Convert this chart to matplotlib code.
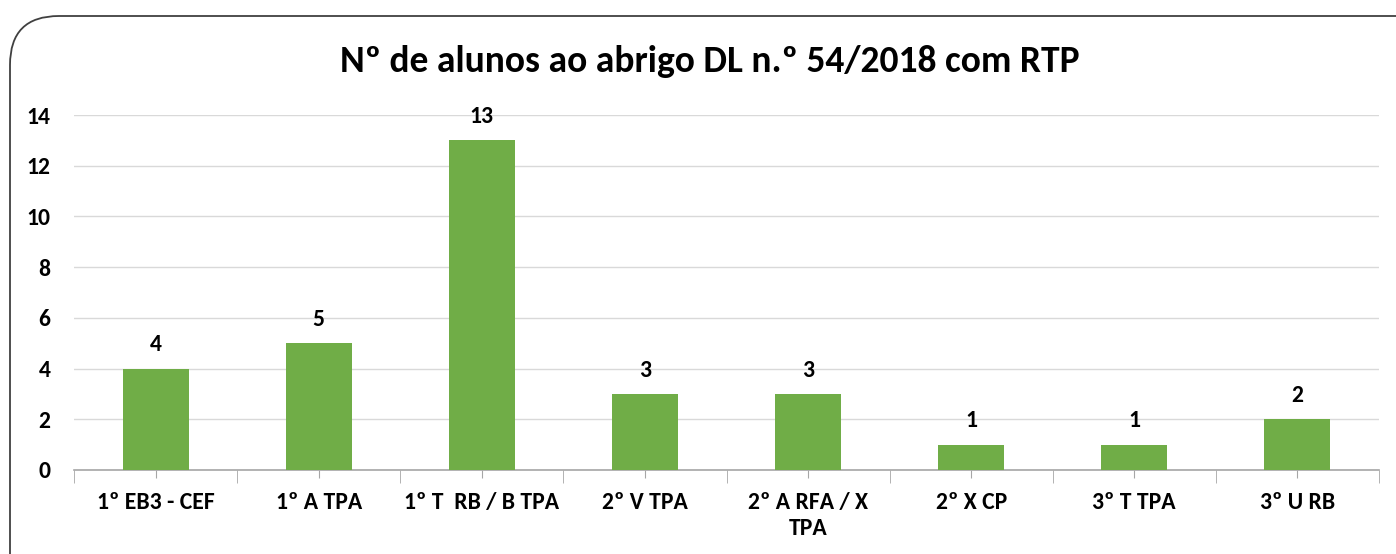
import matplotlib
matplotlib.use("Agg")
import matplotlib.pyplot as plt
from matplotlib.patches import FancyBboxPatch
import numpy as np

categories = ["1º EB3 - CEF", "1º A TPA", "1º T  RB / B TPA", "2º V TPA",
              "2º A RFA / X\nTPA", "2º X CP", "3º T TPA", "3º U RB"]
values = [4, 5, 13, 3, 3, 1, 1, 2]
yticks = [0, 2, 4, 6, 8, 10, 12, 14]
title = "Nº de alunos ao abrigo DL n.º 54/2018 com RTP"

plt.rcParams['font.family'] = ['Carlito', 'DejaVu Sans']

fig = plt.figure(figsize=(13.96, 5.54), dpi=100)
fig.patch.set_facecolor("white")

border = FancyBboxPatch((10/1396, -0.2), 1.2, 1.2 - 16/554,
                        boxstyle="round,pad=0,rounding_size=0.035",
                        transform=fig.transFigure, facecolor="none",
                        edgecolor="#404040", linewidth=1.3, mutation_aspect=1396/554)
fig.patches.append(border)

ax = fig.add_axes([74/1396, 1 - 470/554, (1379-74)/1396, (470-115)/554])
x = np.arange(len(categories))
bars = ax.bar(x, values, width=0.405, color="#70AD47", zorder=3)

ax.set_xlim(-0.5, len(categories) - 0.5)
ax.set_ylim(0, 14)
ax.set_yticks(yticks)
ax.set_yticklabels([str(t) for t in yticks], fontsize=17, fontweight="bold")
ax.tick_params(axis="y", length=0, pad=17)
ax.yaxis.grid(True, color="#d9d9d9", linewidth=1.0, zorder=0)

ax.set_xticks(x)
ax.set_xticklabels(categories, fontsize=17, fontweight="bold", linespacing=1.3)
ax.set_xticks(np.arange(len(categories) + 1) - 0.5, minor=True)
ax.tick_params(axis="x", which="major", length=6, color="#a6a6a6", pad=10)
ax.tick_params(axis="x", which="minor", length=9, color="#a6a6a6")

for s in ["top", "right", "left"]:
    ax.spines[s].set_visible(False)
ax.spines["bottom"].set_color("#a6a6a6")
ax.spines["bottom"].set_linewidth(1.2)

for xi, v in zip(x, values):
    ax.annotate(str(v), (xi, v), xytext=(0, 9.5), textcoords="offset points",
                ha="center", va="bottom", fontsize=17, fontweight="bold")

fig.text(0.5 + 12/1396, 1 - 62/554, title, ha="center", va="center",
         fontsize=27, fontweight="bold")

fig.savefig("out.png", dpi=100)
